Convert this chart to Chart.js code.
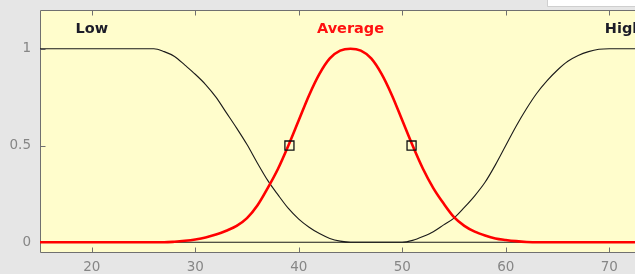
<!DOCTYPE html>
<html><head><meta charset="utf-8">
<script src="https://cdn.jsdelivr.net/npm/chart.js@4.4.0/dist/chart.umd.min.js"></script>
<style>
html,body{margin:0;padding:0;overflow:hidden;background:#e6e6e6;width:635px;height:274px}
#wrap{position:relative;width:635px;height:274px;overflow:hidden}
canvas{position:absolute;left:0;top:0}
</style></head>
<body><div id="wrap"><canvas id="c" width="670" height="274"></canvas></div>
<script>
// ---- data ----
const xValues = [15,16,17,18,19,20,21,22,23,24,25,26,27,28,29,30,31,32,33,34,35,36,37,38,39,40,41,42,43,44,45,46,47,48,49,50,51,52,53,54,55,56,57,58,59,60,61,62,63,64,65,66,67,68,69,70,71,72,73,74,75];
const lowValues = [1,1,1,1,1,1,1,1,1,1,1,1,
  0.985,0.96,0.915,0.868,0.815,0.75,0.67,0.59,0.505,0.41,0.32,0.245,0.175,0.12,0.078,0.045,0.02,0.006,
  0,0,0,0,0,0,0,0,0,0,0,0,0,0,0,0,0,0,0,0,0,0,0,0,0,0,0,0,0,0,0];
const averageValues = [0,0,0,0,0,0,0,0,0,0,0,0,0,
  0.003,0.008,0.015,0.025,0.04,0.06,0.085,0.125,0.19,0.28,0.38,0.5,0.63,0.76,0.87,0.95,0.99,1,
  0.99,0.95,0.87,0.76,0.63,0.5,0.38,0.28,0.2,0.13,0.085,0.055,0.035,0.02,0.012,0.006,0.002,
  0,0,0,0,0,0,0,0,0,0,0,0,0];
const highValues = [0,0,0,0,0,0,0,0,0,0,0,0,0,0,0,0,0,0,0,0,0,0,0,0,0,0,0,0,0,0,0,0,0,0,0,0,
  0.01,0.03,0.055,0.09,0.125,0.18,0.24,0.31,0.4,0.5,0.6,0.69,0.77,0.835,0.89,0.935,0.965,0.985,0.997,
  1,1,1,1,1,1];
const markerX = [39.1, 50.9];
const markerY = [0.5, 0.5];
const xTickValues = [20,30,40,50,60,70];
const yTickValues = [0,0.5,1];
const mfNames = ['Low','Average','High'];
const mfLabelX = [20, 45, 71.4];
const mfLabelY = [1.1, 1.1, 1.1];

const toPts = (ys) => xValues.map((x,i)=>({x:x, y:ys[i]}));
const tickFont = {family:'"DejaVu Sans"', size:13.5};
const labelColors = ['#1c1c28','#ff1010','#1c1c28'];

const frame = {
  id:'frame',
  beforeDraw(chart){
    const ctx = chart.ctx, a = chart.chartArea;
    ctx.save();
    ctx.fillStyle = '#e6e6e6';
    ctx.fillRect(0,0,chart.width,chart.height);
    ctx.fillStyle = '#fffdcc';
    ctx.fillRect(a.left,a.top,a.right-a.left,a.bottom-a.top);
    // white strip top right
    ctx.fillStyle = '#ffffff';
    ctx.fillRect(548,0,200,6);
    ctx.strokeStyle = '#cfcfcf'; ctx.lineWidth = 1;
    ctx.beginPath(); ctx.moveTo(547.5,0); ctx.lineTo(547.5,6.5); ctx.lineTo(700,6.5); ctx.stroke();
    // box
    const L = Math.round(a.left)+0.5, T = Math.round(a.top)+0.5, B = Math.round(a.bottom)+0.5, R = Math.round(a.right)+0.5;
    ctx.strokeStyle = '#707070';
    ctx.beginPath();
    ctx.moveTo(R,T); ctx.lineTo(L,T); ctx.lineTo(L,B); ctx.lineTo(R,B);
    const xs = chart.scales.x, ys = chart.scales.y;
    xTickValues.forEach(v=>{
      const px = Math.round(xs.getPixelForValue(v))+0.5;
      ctx.moveTo(px,B); ctx.lineTo(px,B-5);
      ctx.moveTo(px,T); ctx.lineTo(px,T+5);
    });
    yTickValues.forEach(v=>{
      const py = Math.round(ys.getPixelForValue(v))+0.5;
      ctx.moveTo(L,py); ctx.lineTo(L+5,py);
    });
    ctx.stroke();
    ctx.restore();
  },
  afterDatasetsDraw(chart){
    const ctx = chart.ctx, xs = chart.scales.x, ys = chart.scales.y;
    ctx.save();
    ctx.font = 'bold 14.5px "DejaVu Sans"';
    ctx.textAlign = 'center';
    ctx.textBaseline = 'middle';
    mfNames.forEach((n,i)=>{
      ctx.fillStyle = labelColors[i];
      ctx.fillText(n, xs.getPixelForValue(mfLabelX[i]), ys.getPixelForValue(mfLabelY[i]));
    });
    ctx.restore();
  }
};

new Chart(document.getElementById('c'), {
  type:'line',
  data:{
    datasets:[
      {label:'markers', data: markerX.map((x,i)=>({x:x,y:markerY[i]})), showLine:false,
       pointStyle:'rect', pointRadius:6.4, pointBorderColor:'#111', pointBackgroundColor:'rgba(0,0,0,0)',
       pointBorderWidth:1.3, order:0},
      {label:'Average', data: toPts(averageValues), borderColor:'#ff0000', borderWidth:2.6,
       pointRadius:0, cubicInterpolationMode:'monotone', fill:false, order:1},
      {label:'Low', data: toPts(lowValues), borderColor:'#1a1a1a', borderWidth:1.1,
       pointRadius:0, cubicInterpolationMode:'monotone', fill:false, order:2},
      {label:'High', data: toPts(highValues), borderColor:'#1a1a1a', borderWidth:1.1,
       pointRadius:0, cubicInterpolationMode:'monotone', fill:false, order:3}
    ]
  },
  options:{
    responsive:false, animation:false,
    layout:{padding:{top:10,right:9,left:0,bottom:0}},
    plugins:{legend:{display:false}, tooltip:{enabled:false}},
    scales:{
      x:{type:'linear', min:15, max:75,
         afterBuildTicks:s=>{s.ticks = xTickValues.map(v=>({value:v}));},
         afterFit:s=>{s.height = 22; s.paddingLeft = 0; s.paddingRight = 0; s.paddingTop = 0; s.paddingBottom = 0;},
         grid:{display:false, drawTicks:false}, border:{display:false},
         ticks:{font:tickFont, color:'#868686', padding:7, maxRotation:0, autoSkip:false, callback:v=>String(v)}},
      y:{min:-0.05, max:1.2,
         afterBuildTicks:s=>{s.ticks = yTickValues.map(v=>({value:v}));},
         afterFit:s=>{s.width = 40; s.paddingTop = 0; s.paddingBottom = 0; s.paddingLeft = 0; s.paddingRight = 0;},
         grid:{display:false, drawTicks:false}, border:{display:false},
         ticks:{font:tickFont, color:'#868686', padding:9, autoSkip:false, callback:v=>String(v)}}
    }
  },
  plugins:[frame]
});
</script>
</body></html>
